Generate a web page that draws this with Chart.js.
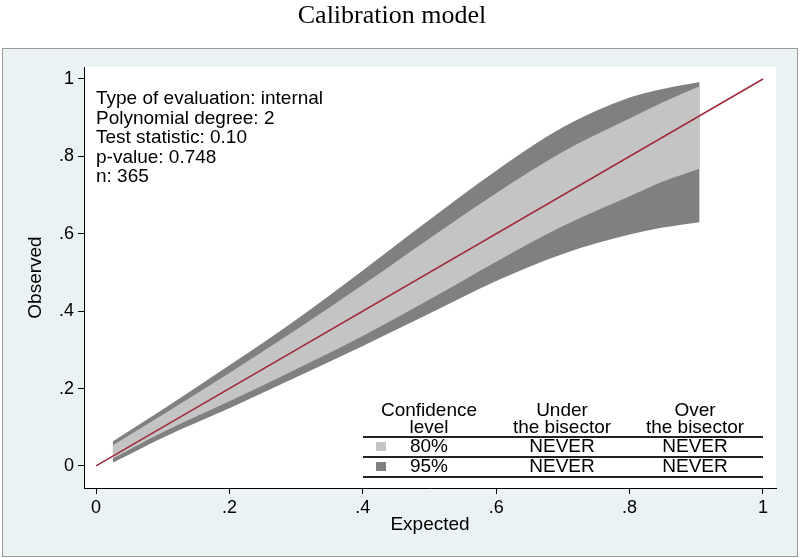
<!DOCTYPE html>
<html>
<head>
<meta charset="utf-8"/>
<title>Calibration model</title>
<script src="https://cdn.jsdelivr.net/npm/chart.js@4/dist/chart.umd.min.js"></script>
<style>
 body { margin: 0; background: #fff; }
</style>
</head>
<body>
<canvas id="chart" width="800" height="558"></canvas>
<script>
// values
var expected = [0.025, 0.1, 0.2, 0.3, 0.4, 0.5, 0.6, 0.7, 0.8, 0.85, 0.905];
var upper95  = [0.063, 0.146, 0.260, 0.378, 0.505, 0.636, 0.763, 0.875, 0.952, 0.974, 0.992];
var upper80  = [0.053, 0.132, 0.240, 0.352, 0.468, 0.588, 0.705, 0.812, 0.898, 0.940, 0.981];
var lower80  = [0.019, 0.087, 0.167, 0.250, 0.336, 0.430, 0.528, 0.620, 0.697, 0.735, 0.768];
var lower95  = [0.008, 0.073, 0.149, 0.229, 0.310, 0.394, 0.478, 0.548, 0.598, 0.616, 0.630];
var bisector = [0, 1];
var tickValues = [0, 0.2, 0.4, 0.6, 0.8, 1];

var infoLines = [
  'Type of evaluation: internal',
  'Polynomial degree: 2',
  'Test statistic: 0.10',
  'p-value: 0.748',
  'n: 365'
];
var tableHead = [['Confidence', 'level'], ['Under', 'the bisector'], ['Over', 'the bisector']];
var tableRows = [['80%', 'NEVER', 'NEVER'], ['95%', 'NEVER', 'NEVER']];

var LIGHT = '#c4c4c4', DARK = '#808080';
var SANS = '"Liberation Sans", Arial, sans-serif';

function pts(xs, ys){
  var out = [];
  for( var i = 0; i < xs.length; i ++ ) out.push({ x: xs[i], y: ys[i] });
  return out;
}

function fmt(v){
  if( v === 0 ) return '0';
  if( v === 1 ) return '1';
  return String(Math.round(v * 10) / 10).replace('0.', '.');
}

var frame = {
  id: 'frame',
  beforeDraw: function(chart){
    var c = chart.ctx, a = chart.chartArea;
    c.save();
    c.fillStyle = '#fff';
    c.fillRect(0, 0, chart.width, chart.height);
    c.fillStyle = '#eaf2f3';
    c.fillRect(2, 48, 795, 508);
    c.strokeStyle = '#9a9a9a';
    c.lineWidth = 1;
    c.strokeRect(2.5, 48.5, 795, 508);
    c.fillStyle = '#fff';
    c.fillRect(a.left, a.top, a.right - a.left, a.bottom - a.top);
    c.fillStyle = '#000';
    c.font = '26px "Liberation Serif", "Times New Roman", serif';
    c.textAlign = 'center';
    c.textBaseline = 'middle';
    c.fillText('Calibration model', 392, 16);
    c.restore();
  },
  afterDraw: function(chart){
    var c = chart.ctx;
    c.save();
    c.fillStyle = '#000';
    c.font = '19px ' + SANS;
    c.textBaseline = 'middle';
    c.textAlign = 'left';
    for( var i = 0; i < infoLines.length; i ++ ){
      c.fillText(infoLines[i], 96, 99 + i * 19.5);
    }
    // little table
    var cols = [429, 562, 695];
    c.textAlign = 'center';
    for( var j = 0; j < tableHead.length; j ++ ){
      c.fillText(tableHead[j][0], cols[j], 411);
      c.fillText(tableHead[j][1], cols[j], 428);
    }
    var rowY = [447, 467];
    var sw = [LIGHT, DARK];
    for( var r = 0; r < tableRows.length; r ++ ){
      for( var k = 0; k < 3; k ++ ) c.fillText(tableRows[r][k], cols[k], rowY[r]);
      c.fillStyle = sw[r];
      c.fillRect(376, rowY[r] - 5, 10, 9);
      c.fillStyle = '#000';
    }
    c.strokeStyle = '#222';
    c.lineWidth = 2;
    [437, 457, 477].forEach(function(y){
      c.beginPath(); c.moveTo(363, y); c.lineTo(763, y); c.stroke();
    });
    c.restore();
  }
};

var tickFont = { family: SANS, size: 18 };
var titleFont = { family: SANS, size: 19 };

new Chart(document.getElementById('chart'), {
  type: 'scatter',
  data: {
    datasets: [
      { label: 'bisector', data: pts(bisector, bisector), showLine: true,
        borderColor: '#a0283a', borderWidth: 1.5, pointRadius: 0, fill: false },
      { label: '80% upper', data: pts(expected, upper80), showLine: true, cubicInterpolationMode: 'monotone',
        borderWidth: 0, pointRadius: 0, backgroundColor: LIGHT, fill: 2 },
      { label: '80% lower', data: pts(expected, lower80), showLine: true, cubicInterpolationMode: 'monotone',
        borderWidth: 0, pointRadius: 0, fill: false },
      { label: '95% upper', data: pts(expected, upper95), showLine: true, cubicInterpolationMode: 'monotone',
        borderWidth: 0, pointRadius: 0, backgroundColor: DARK, fill: 4 },
      { label: '95% lower', data: pts(expected, lower95), showLine: true, cubicInterpolationMode: 'monotone',
        borderWidth: 0, pointRadius: 0, fill: false }
    ]
  },
  options: {
    responsive: false,
    animation: false,
    layout: { padding: { left: 0, top: 67, right: 24, bottom: 0 } },
    plugins: { legend: { display: false }, tooltip: { enabled: false } },
    scales: {
      x: {
        type: 'linear', min: -0.018, max: 1.0195,
        afterFit: function(s){ s.height = 70; },
        afterBuildTicks: function(s){ s.ticks = tickValues.map(function(v){ return { value: v }; }); },
        grid: { drawOnChartArea: false, drawTicks: true, tickLength: 6, color: '#000' },
        border: { display: true, color: '#000', width: 1 },
        ticks: { color: '#000', font: tickFont, padding: 3, maxRotation: 0, callback: fmt },
        title: { display: true, text: 'Expected', color: '#000', font: titleFont, padding: { top: 0, bottom: 22 } }
      },
      y: {
        type: 'linear', min: -0.057, max: 1.031,
        afterFit: function(s){ s.width = 84; },
        afterBuildTicks: function(s){ s.ticks = tickValues.map(function(v){ return { value: v }; }); },
        grid: { drawOnChartArea: false, drawTicks: true, tickLength: 6, color: '#000' },
        border: { display: true, color: '#000', width: 1 },
        ticks: { color: '#000', font: tickFont, padding: 4, callback: fmt },
        title: { display: true, text: 'Observed', color: '#000', font: titleFont, padding: { top: 24, bottom: 0 } }
      }
    }
  },
  plugins: [frame]
});
</script>
</body>
</html>
